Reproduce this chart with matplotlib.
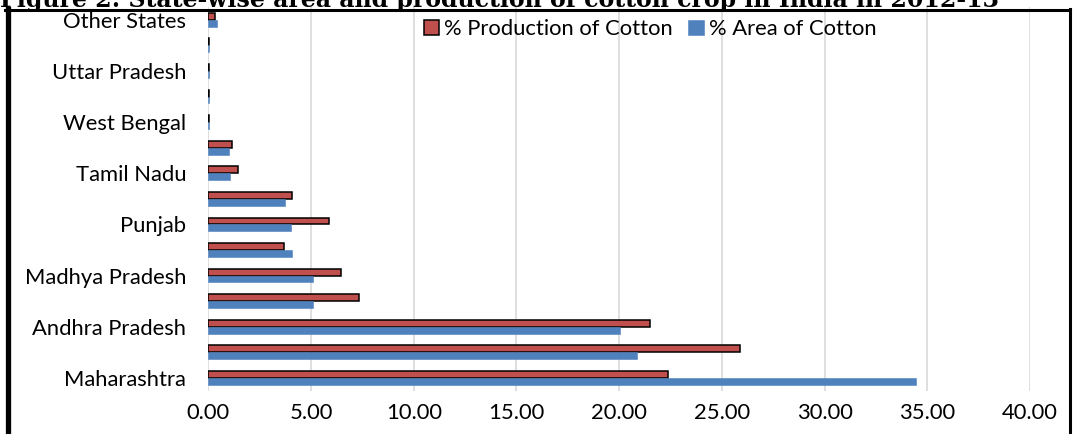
import matplotlib
matplotlib.use('agg')
import matplotlib.pyplot as plt
from matplotlib.lines import Line2D
import numpy as np

# state order, bottom to top as in the chart
states = ['Maharashtra', 'Gujarat', 'Andhra Pradesh', 'Haryana', 'Madhya Pradesh',
          'Karnataka', 'Punjab', 'Rajasthan', 'Tamil Nadu', 'Orissa', 'West Bengal',
          'Tripura', 'Uttar Pradesh', 'Mizoram', 'Other States']
pct_production = [22.39, 25.88, 21.50, 7.33, 6.46, 3.68, 5.87, 4.08, 1.46, 1.17,
                  0.05, 0.05, 0.05, 0.05, 0.30]
pct_area = [34.45, 20.85, 20.04, 5.11, 5.08, 4.05, 4.00, 3.74, 1.04, 0.98,
            0.03, 0.01, 0.01, 0.01, 0.41]
xticks = [0, 5, 10, 15, 20, 25, 30, 35, 40]

plt.rcParams['font.family'] = ['Lato', 'DejaVu Sans']
fs = 15.8

fig = plt.figure(figsize=(10.73, 4.34), dpi=100)
ax = fig.add_axes([0.1942, 0.0998, 0.7657, 0.8841])

y = np.arange(len(states))
h = 0.27
ax.barh(y + h / 2, pct_production, height=h, color='#C0504D', edgecolor='black',
        linewidth=1.1, label='% Production of Cotton', zorder=3)
ax.barh(y - h / 2, pct_area, height=h, color='#4F81BD', edgecolor='#4F81BD',
        linewidth=0.4, label='% Area of Cotton', zorder=3)

ax.set_xlim(0, 40)
ax.set_ylim(-0.5, len(states) - 0.5)
ax.set_xticks(xticks)
ax.set_xticklabels([f'{v:.2f}' for v in xticks], fontsize=fs)
ax.set_yticks(y)
ax.set_yticklabels([s if i % 2 == 0 else '' for i, s in enumerate(states)], fontsize=fs)
ax.tick_params(axis='x', length=0, pad=9)
ax.tick_params(axis='y', length=0, pad=16)
ax.grid(axis='x', color='#D9D9D9', linewidth=1.2, zorder=0)
for s in ax.spines.values():
    s.set_visible(False)

ax.legend(loc='center', bbox_to_anchor=(0.606, 0.933), bbox_transform=fig.transFigure,
          ncol=2, frameon=False, fontsize=fs, handlelength=0.7, handleheight=0.7,
          handletextpad=0.25, columnspacing=0.7)

# outer frame (bottom edge is cut off in the source image)
fig.add_artist(Line2D([0.007, 0.007], [0, 0.98], transform=fig.transFigure, color='black', linewidth=3.8))
fig.add_artist(Line2D([0.005, 0.9975], [0.978, 0.978], transform=fig.transFigure, color='black', linewidth=2.2))
fig.add_artist(Line2D([0.9968, 0.9968], [0, 0.98], transform=fig.transFigure, color='black', linewidth=2.2))

# title, only its lower half fits in the picture
fig.text(0.0, 1 - 7 / 434, 'Figure 2: State-wise area and production of cotton crop in India in 2012-13',
         family=['DejaVu Serif'], fontweight='bold', fontsize=17, va='baseline', ha='left')

fig.savefig('out.png', dpi=100)
